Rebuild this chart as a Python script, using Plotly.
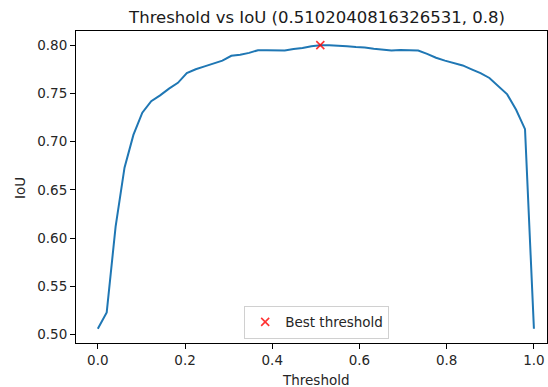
import numpy as np
import plotly.graph_objects as go

thresholds = np.linspace(0, 1, 50)
ious = [0.506, 0.523, 0.612, 0.673, 0.707, 0.730, 0.742, 0.748, 0.755, 0.761,
        0.771, 0.775, 0.778, 0.781, 0.784, 0.789, 0.790, 0.792, 0.7948, 0.7948,
        0.795, 0.7945, 0.796, 0.797, 0.799, 0.800, 0.7998, 0.7995, 0.799, 0.798,
        0.7975, 0.7962, 0.795, 0.7945, 0.795, 0.795, 0.7945, 0.791, 0.787, 0.784,
        0.7814, 0.779, 0.775, 0.771, 0.766, 0.757, 0.749, 0.733, 0.713, 0.506]
best_idx = int(np.argmax(ious))
best_label = "Best threshold"
title_text = "Threshold vs IoU (0.5102040816326531, 0.8)"
x_label = "Threshold"
y_label = "IoU"
x_ticks = [0.0, 0.2, 0.4, 0.6, 0.8, 1.0]
y_ticks = [0.50, 0.55, 0.60, 0.65, 0.70, 0.75, 0.80]

font = "DejaVu Sans"
fig = go.Figure()
fig.add_trace(go.Scatter(x=thresholds, y=ious, mode="lines",
                         line=dict(color="#1f77b4", width=2), showlegend=False))
fig.add_trace(go.Scatter(x=[thresholds[best_idx]], y=[ious[best_idx]], mode="markers",
                         name=best_label,
                         marker=dict(symbol="x-thin", size=8, opacity=0.8,
                                     line=dict(color="red", width=1.6), color="red")))

axis_common = dict(showline=True, mirror=True, linecolor="black", linewidth=1,
                   ticks="outside", ticklen=5, tickcolor="black", tickwidth=1,
                   showgrid=False, zeroline=False,
                   tickfont=dict(family=font, size=13.5, color="#262626"))
fig.update_xaxes(range=[-0.05, 1.030], tickvals=x_ticks,
                 ticktext=[f"{v:.1f}" for v in x_ticks], **axis_common)
fig.update_yaxes(range=[0.4913, 0.8147], tickvals=y_ticks,
                 ticktext=[f"{v:.2f}" for v in y_ticks], **axis_common)

fig.update_layout(
    width=548, height=387,
    margin=dict(l=76, r=1, t=31, b=44),
    paper_bgcolor="white", plot_bgcolor="white",
    font=dict(family=font, size=13.5, color="#262626"),
    title=dict(text=title_text, x=317/548, xref="container", xanchor="center",
               y=1 - 17/387, yref="container", yanchor="middle",
               font=dict(family=font, size=16.5, color="#1a1a1a")),
    legend=dict(x=0.511, xanchor="center", y=0.014, yanchor="bottom",
                bgcolor="rgba(255,255,255,0.8)", bordercolor="#d0d0d0", borderwidth=1,
                font=dict(family=font, size=13.5, color="#262626")),
    annotations=[
        dict(text=x_label, x=0.5096, xref="paper", y=-0.1186, yref="paper",
             showarrow=False, xanchor="center", yanchor="middle",
             font=dict(family=font, size=13.5, color="#262626")),
        dict(text=y_label, x=-0.1189, xref="paper", y=0.4968, yref="paper",
             showarrow=False, textangle=-90, xanchor="center", yanchor="middle",
             font=dict(family=font, size=13.5, color="#262626")),
    ],
)
fig.write_html("out.html", config={"displayModeBar": False},
               post_script="document.body.style.margin='0';document.body.style.overflow='hidden';")
